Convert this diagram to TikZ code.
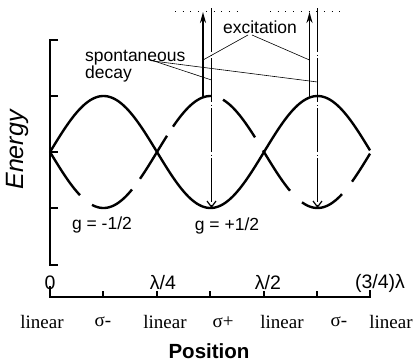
\documentclass[tikz,border=0pt]{standalone}
\usepackage{fontspec}
\setmainfont{Liberation Sans}
\newfontfamily\serifbody{Liberation Serif}
\usetikzlibrary{arrows.meta}
\begin{document}
\begin{tikzpicture}[x=1pt,y=-1pt,
  curve/.style={line width=2.4pt},
  axisline/.style={line width=2.6pt,line cap=butt},
  leader/.style={line width=0.6pt},
  uparrow/.style={line width=1.8pt,-{Stealth[length=11pt,width=6pt]}},
  decayline/.style={line width=1.5pt,dash pattern=on 44pt off 2.5pt on 1pt off 2.5pt,-{Straight Barb[length=6pt,width=9pt,line width=1.2pt]}},
  dotline/.style={line width=1pt,dash pattern=on 1pt off 6.7pt},
  lbl/.style={font=\fontsize{17.5}{17}\selectfont, inner sep=0pt},
  axlbl/.style={font=\fontsize{19.5}{20}\selectfont, inner sep=0pt},
  pollbl/.style={font=\serifbody\fontsize{19}{20}\selectfont, inner sep=0pt}
]
\useasboundingbox (0,0) rectangle (415,362);

% Energy axis
\draw[axisline] (58,40) -- (50,40) -- (50,265) -- (58,265);
\foreach \yy in {96,152,208} \draw[axisline] (50,\yy) -- (58,\yy);
\node[font=\itshape\fontsize{25}{26}\selectfont, rotate=90, inner sep=0pt] (energy) at (17,150) {Energy};

% Position axis
\draw[axisline] (50,286) -- (50,297) -- (370,297) -- (370,290);
\foreach \xx in {103,157,210,264,317} \draw[axisline] (\xx,297) -- (\xx,291);
\node[axlbl] (t0) at (50,283) {0};
\node[axlbl] (t1) at (163,283) {λ/4};
\node[axlbl] (t2) at (268,283) {λ/2};
\node[axlbl] (t3) at (380,283) {(3/4)λ};

\node[pollbl] (p1) at (42,322) {linear};
\node[pollbl] (p2) at (103,322) {σ-};
\node[pollbl] (p3) at (165,322) {linear};
\node[pollbl] (p4) at (223,322) {σ+};
\node[pollbl] (p5) at (282,322) {linear};
\node[pollbl] (p6) at (339,322) {σ-};
\node[pollbl] (p7) at (391,322) {linear};
\node[font=\bfseries\fontsize{20.5}{22}\selectfont, inner sep=0pt] (pos) at (209,351.5) {Position};

% Potential curves
\draw[curve] plot[domain=50:370,samples=160] (\x,{152-56*sin((\x-50)*1.682243)});
\foreach \a/\b in {50/80,92/132,140/167,173/211,223/255,263/290,302/342,352/370}
  \draw[curve] plot[domain=\a:\b,samples=30] (\x,{152+56*sin((\x-50)*1.682243)});

\node[lbl] (gm) at (102,225) {g = -1/2};
\node[lbl] (gp) at (227,226) {g = +1/2};

% Dotted upper level
\coordinate (dA1) at (175,11); \coordinate (dA2) at (240,11);
\coordinate (dB1) at (270,11); \coordinate (dB2) at (340,11);
\draw[dotline] (dA1) -- (dA2);
\draw[dotline] (dB1) -- (dB2);

% Excitation arrows
\coordinate (u1s) at (203,97); \coordinate (u1e) at (203,12);
\coordinate (u2s) at (309.5,97); \coordinate (u2e) at (309.5,12);
\draw[uparrow] (u1s) -- (u1e);
\draw[uparrow] (u2s) -- (u2e);

% Spontaneous decay lines
\coordinate (d1s) at (211.5,8); \coordinate (d1e) at (211.5,208);
\coordinate (d2s) at (317.5,8); \coordinate (d2e) at (317.5,208);
\draw[decayline] (d1s) -- (d1e);
\draw[decayline] (d2s) -- (d2e);

% Labels and leaders
\node[lbl] (exc) at (260,27) {excitation};
\node[lbl, align=left, anchor=north west] (spd) at (85,50) {spontaneous\\decay};
\coordinate (eL) at (248,35); \coordinate (eR) at (252,35);
\coordinate (eA) at (203,60); \coordinate (eB) at (309.5,60);
\draw[leader] (eL) -- (eA);
\draw[leader] (eR) -- (eB);
\coordinate (sL) at (148,59); \coordinate (sR) at (153,61);
\coordinate (sA) at (211.5,80); \coordinate (sB) at (317.5,82);
\draw[leader] (sL) -- (sA);
\draw[leader] (sR) -- (sB);
\end{tikzpicture}
\end{document}
